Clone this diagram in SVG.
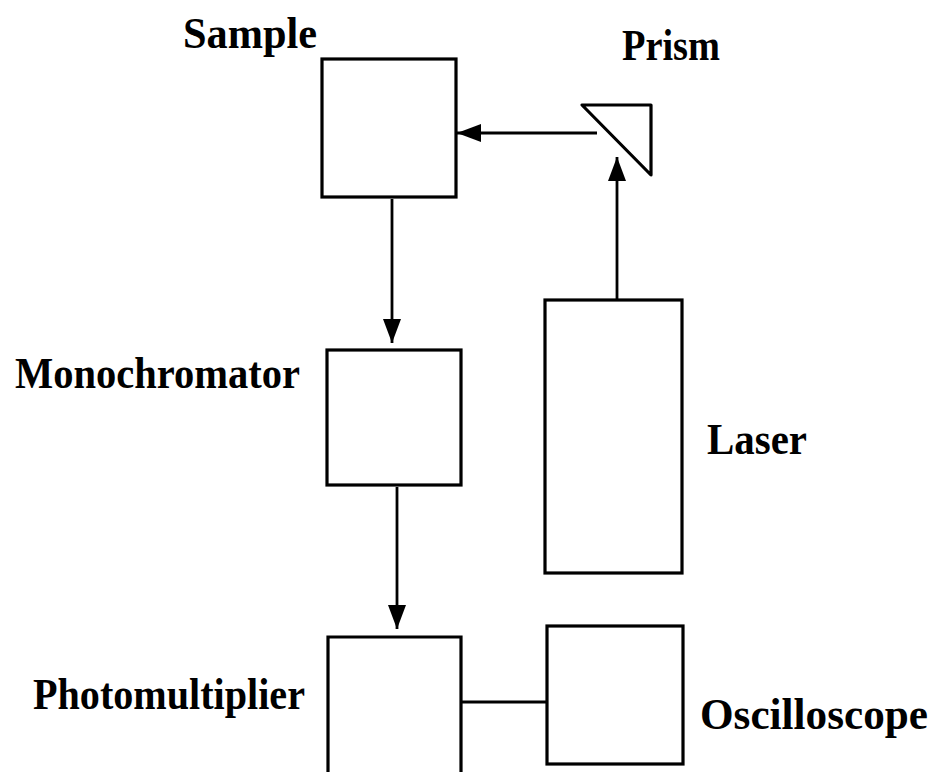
<svg xmlns="http://www.w3.org/2000/svg" width="937" height="772" viewBox="0 0 937 772">
<style>
.box{fill:none;stroke:#000;stroke-width:3.2}
.lbl{font-family:"Liberation Serif","Times New Roman",serif;font-weight:bold;font-size:44px;fill:#000}
.con{fill:none;stroke:#000;stroke-width:2.8}
</style>
<defs>
<marker id="ah" markerUnits="userSpaceOnUse" markerWidth="26" markerHeight="20" refX="24" refY="9" orient="auto">
<path d="M0,0 L24,9 L0,18 Z" fill="#000"/>
</marker>
</defs>
<rect x="0" y="0" width="937" height="772" fill="#fff"/>
<g id="sample">
<rect class="box" x="322" y="59" width="134" height="138"/>
<text class="lbl" x="183" y="48" textLength="134" lengthAdjust="spacingAndGlyphs">Sample</text>
</g>
<g id="prism">
<polygon class="box" points="582,105 651,105 651,175" stroke-linejoin="round"/>
<text class="lbl" x="622" y="60" textLength="98" lengthAdjust="spacingAndGlyphs">Prism</text>
</g>
<g id="monochromator">
<rect class="box" x="327" y="350" width="134" height="135"/>
<text class="lbl" x="15" y="388" textLength="285" lengthAdjust="spacingAndGlyphs">Monochromator</text>
</g>
<g id="laser">
<rect class="box" x="545" y="300" width="137" height="273"/>
<text class="lbl" x="707" y="454" textLength="100" lengthAdjust="spacingAndGlyphs">Laser</text>
</g>
<g id="photomultiplier">
<path class="box" d="M328,775 L328,637 L461,637 L461,775"/>
<text class="lbl" x="33" y="709" textLength="272" lengthAdjust="spacingAndGlyphs">Photomultiplier</text>
</g>
<g id="oscilloscope">
<rect class="box" x="547" y="626" width="136" height="138"/>
<text class="lbl" x="700" y="729" textLength="228" lengthAdjust="spacingAndGlyphs">Oscilloscope</text>
</g>
<g id="connectors">
<line class="con" x1="597" y1="133" x2="457" y2="133" marker-end="url(#ah)"/>
<line class="con" x1="617" y1="299" x2="617" y2="157" marker-end="url(#ah)"/>
<line class="con" x1="392" y1="199" x2="392" y2="343" marker-end="url(#ah)"/>
<line class="con" x1="397" y1="487" x2="397" y2="629" marker-end="url(#ah)"/>
<line class="con" x1="461" y1="702" x2="547" y2="702"/>
</g>
</svg>
